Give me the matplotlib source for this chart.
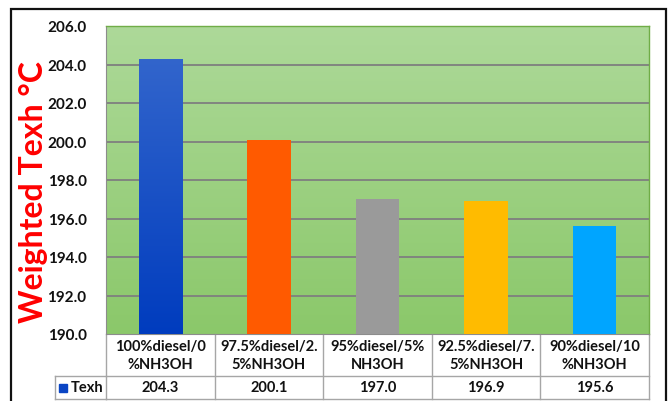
import numpy as np
import matplotlib
matplotlib.use("Agg")
import matplotlib.pyplot as plt
from matplotlib.patches import Rectangle
from matplotlib.lines import Line2D
from matplotlib.colors import LinearSegmentedColormap
import matplotlib.transforms as mtrans

categories = ["100%diesel/0\n%NH3OH", "97.5%diesel/2.\n5%NH3OH", "95%diesel/5%\nNH3OH",
              "92.5%diesel/7.\n5%NH3OH", "90%diesel/10\n%NH3OH"]
texh = [204.3, 200.1, 197.0, 196.9, 195.6]
series_name = "Texh"
bar_colors = ["#0a45c4", "#ff5a00", "#9a9a9a", "#ffbb00", "#00a5ff"]
yticks = [190.0, 192.0, 194.0, 196.0, 198.0, 200.0, 202.0, 204.0, 206.0]

plt.rcParams['font.family'] = ['Lato', 'DejaVu Sans']

W, H = 670, 402
fig = plt.figure(figsize=(6.7, 4.02), dpi=100)
ax = fig.add_axes([106/W, 1-335/H, (649-106)/W, (335-27)/H])

x = np.arange(len(texh))
ax.set_xlim(-0.5, len(texh)-0.5)
ax.set_ylim(190, 206)

# green gradient background
grad = LinearSegmentedColormap.from_list("bg", ["#8bc86a", "#add999"])
ax.imshow(np.linspace(0, 1, 256).reshape(-1, 1), aspect="auto", cmap=grad, origin="lower",
          extent=(-0.5, len(texh)-0.5, 190, 206), zorder=0)

for yv in yticks[1:-1]:
    ax.axhline(yv, color="#7f7f7f", lw=1.3, zorder=1)

bars = ax.bar(x, [v - 190 for v in texh], bottom=190, width=0.4, color=bar_colors, zorder=3,
              edgecolor="none")
# blue gradient on first bar
b0 = bars[0]
bcm = LinearSegmentedColormap.from_list("b", ["#003cbe", "#3265cc"])
im = ax.imshow(np.linspace(0, 1, 256).reshape(-1, 1), aspect="auto", cmap=bcm, origin="lower",
               extent=(b0.get_x(), b0.get_x()+b0.get_width(), 190, texh[0]), zorder=4)
im.set_clip_path(b0)
ax.set_xlim(-0.5, len(texh)-0.5)
ax.set_ylim(190, 206)

ax.set_yticks(yticks)
ax.set_yticklabels(["%.1f" % v for v in yticks], fontsize=11, fontweight="bold", color="#111111")
ax.tick_params(axis="y", length=0, pad=14)
ax.set_xticks([])
for s in ["top", "right"]:
    ax.spines[s].set_color("#70ad47")
    ax.spines[s].set_linewidth(1.0)
ax.spines["left"].set_color("#8c8c8c")
ax.spines["bottom"].set_color("#8c8c8c")

ax.set_ylabel("Weighted Texh \u00b0C", fontsize=23, fontweight="bold", color="#ff0000",
              family=["Lato", "DejaVu Sans"])
ax.yaxis.set_label_coords(-0.107, 0.464)

# data table under the plot
tr = mtrans.blended_transform_factory(ax.transData, ax.transAxes)
r1 = -(377-335)/308
r2 = -(400-335)/308
lc = "#a6a6a6"
edges = np.arange(len(texh)+1) - 0.5
for e in edges:
    ax.add_line(Line2D([e, e], [0, r2], transform=tr, color=lc, lw=1, clip_on=False))
ax.add_line(Line2D([-0.5, len(texh)-0.5], [r1, r1], transform=tr, color=lc, lw=1, clip_on=False))
ax.add_line(Line2D([-0.5, len(texh)-0.5], [r2, r2], transform=tr, color=lc, lw=1, clip_on=False))
# legend cell
lx0 = (55-106)/(649-106)
ax.add_line(Line2D([lx0, 0], [r1, r1], transform=ax.transAxes, color=lc, lw=1, clip_on=False))
ax.add_line(Line2D([lx0, 0], [r2, r2], transform=ax.transAxes, color=lc, lw=1, clip_on=False))
ax.add_line(Line2D([lx0, lx0], [r1, r2], transform=ax.transAxes, color=lc, lw=1, clip_on=False))
ax.add_patch(Rectangle(((59-106)/543, (r1+r2)/2-0.013), 8/543, 8/308, transform=ax.transAxes,
                       color=bar_colors[0], clip_on=False))
ax.text((71-106)/543, (r1+r2)/2, series_name, transform=ax.transAxes, ha="left", va="center",
        fontsize=10.5, fontweight="bold", color="#111111")

for i, (c, v) in enumerate(zip(categories, texh)):
    ax.text(i, r1/2, c, transform=tr, ha="center", va="center", fontsize=10.5, fontweight="bold",
            color="#111111", linespacing=1.45)
    ax.text(i, (r1+r2)/2, "%.1f" % v, transform=tr, ha="center", va="center", fontsize=10.5,
            fontweight="bold", color="#111111")

# outer border
fig.add_artist(Rectangle((11/W, -0.05), (666-11)/W, 1.05-10/H, transform=fig.transFigure,
                         fill=False, edgecolor="#111111", lw=1.6))

fig.savefig("out.png", dpi=100)
